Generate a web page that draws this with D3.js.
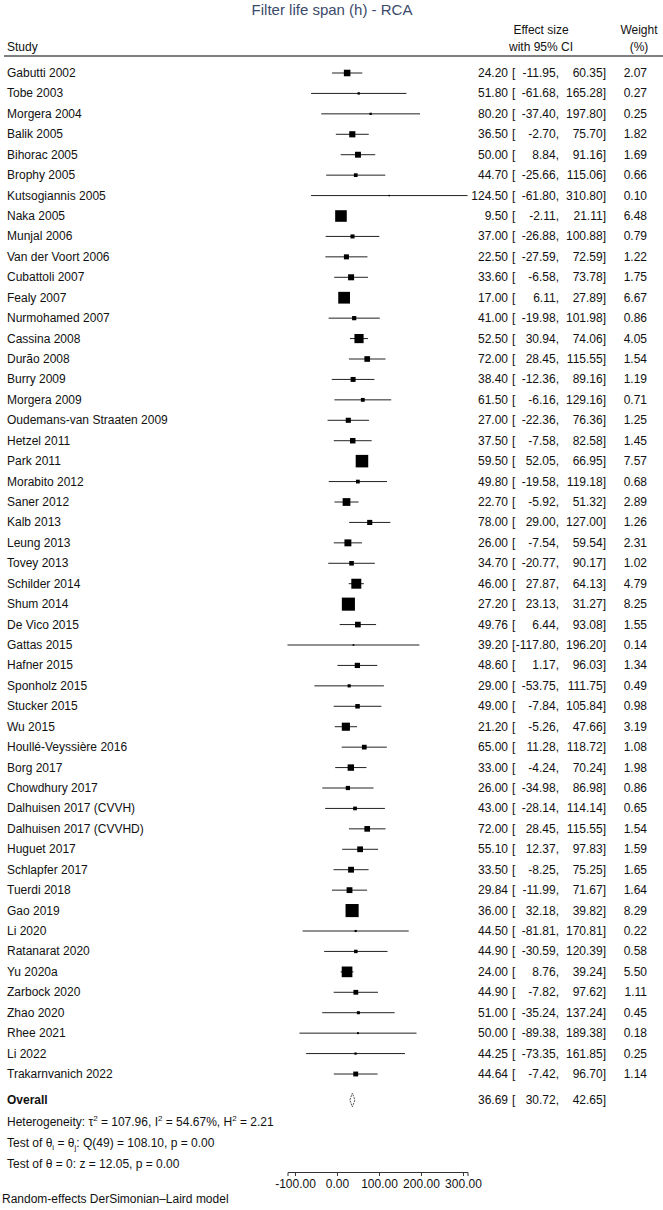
<!DOCTYPE html>
<html>
<head>
<meta charset="utf-8">
<script src="https://cdn.jsdelivr.net/npm/d3@7"></script>
<style>
  body { margin: 0; background: #fff; }
  text { font-family: "Liberation Sans", Arial, sans-serif; font-size: 12px; fill: #111; }
</style>
</head>
<body>
<svg id="chart"></svg>
<script>
var width = 663;
var height = 1210;

// study rows
var studies = ["Gabutti 2002", "Tobe 2003", "Morgera 2004", "Balik 2005", "Bihorac 2005",
  "Brophy 2005", "Kutsogiannis 2005", "Naka 2005", "Munjal 2006", "Van der Voort 2006",
  "Cubattoli 2007", "Fealy 2007", "Nurmohamed 2007", "Cassina 2008", "Durão 2008",
  "Burry 2009", "Morgera 2009", "Oudemans-van Straaten 2009", "Hetzel 2011", "Park 2011",
  "Morabito 2012", "Saner 2012", "Kalb 2013", "Leung 2013", "Tovey 2013",
  "Schilder 2014", "Shum 2014", "De Vico 2015", "Gattas 2015", "Hafner 2015",
  "Sponholz 2015", "Stucker 2015", "Wu 2015", "Houllé-Veyssière 2016", "Borg 2017",
  "Chowdhury 2017", "Dalhuisen 2017 (CVVH)", "Dalhuisen 2017 (CVVHD)", "Huguet 2017", "Schlapfer 2017",
  "Tuerdi 2018", "Gao 2019", "Li 2020", "Ratanarat 2020", "Yu 2020a",
  "Zarbock 2020", "Zhao 2020", "Rhee 2021", "Li 2022", "Trakarnvanich 2022"];

var effects = [24.20, 51.80, 80.20, 36.50, 50.00, 44.70, 124.50, 9.50, 37.00, 22.50,
  33.60, 17.00, 41.00, 52.50, 72.00, 38.40, 61.50, 27.00, 37.50, 59.50,
  49.80, 22.70, 78.00, 26.00, 34.70, 46.00, 27.20, 49.76, 39.20, 48.60,
  29.00, 49.00, 21.20, 65.00, 33.00, 26.00, 43.00, 72.00, 55.10, 33.50,
  29.84, 36.00, 44.50, 44.90, 24.00, 44.90, 51.00, 50.00, 44.25, 44.64];

var lower = [-11.95, -61.68, -37.40, -2.70, 8.84, -25.66, -61.80, -2.11, -26.88, -27.59,
  -6.58, 6.11, -19.98, 30.94, 28.45, -12.36, -6.16, -22.36, -7.58, 52.05,
  -19.58, -5.92, 29.00, -7.54, -20.77, 27.87, 23.13, 6.44, -117.80, 1.17,
  -53.75, -7.84, -5.26, 11.28, -4.24, -34.98, -28.14, 28.45, 12.37, -8.25,
  -11.99, 32.18, -81.81, -30.59, 8.76, -7.82, -35.24, -89.38, -73.35, -7.42];

var upper = [60.35, 165.28, 197.80, 75.70, 91.16, 115.06, 310.80, 21.11, 100.88, 72.59,
  73.78, 27.89, 101.98, 74.06, 115.55, 89.16, 129.16, 76.36, 82.58, 66.95,
  119.18, 51.32, 127.00, 59.54, 90.17, 64.13, 31.27, 93.08, 196.20, 96.03,
  111.75, 105.84, 47.66, 118.72, 70.24, 86.98, 114.14, 115.55, 97.83, 75.25,
  71.67, 39.82, 170.81, 120.39, 39.24, 97.62, 137.24, 189.38, 161.85, 96.70];

var weights = [2.07, 0.27, 0.25, 1.82, 1.69, 0.66, 0.10, 6.48, 0.79, 1.22,
  1.75, 6.67, 0.86, 4.05, 1.54, 1.19, 0.71, 1.25, 1.45, 7.57,
  0.68, 2.89, 1.26, 2.31, 1.02, 4.79, 8.25, 1.55, 0.14, 1.34,
  0.49, 0.98, 3.19, 1.08, 1.98, 0.86, 0.65, 1.54, 1.59, 1.65,
  1.64, 8.29, 0.22, 0.58, 5.50, 1.11, 0.45, 0.18, 0.25, 1.14];

// pooled estimate
var overall = [36.69, 30.72, 42.65];

var xTicks = [-100, 0, 100, 200, 300];

var svg = d3.select("#chart")
  .attr("width", width)
  .attr("height", height);

// plain hyphen for negatives, like the original
var fmt = d3.formatLocale({ decimal: ".", thousands: ",", grouping: [3], currency: ["", ""], minus: "-" }).format(".2f");

/** Scales */
var xScale = d3.scaleLinear()
  .domain([d3.min(lower), d3.max(upper)])
  .range([287.5, 467.5]);

var yScale = d3.scalePoint()
  .domain(d3.range(studies.length))
  .range([73, 1074]);

var sizeScale = d3.scaleSqrt()
  .domain([0, d3.max(weights)])
  .range([0, 13.1]);

// title
svg.append("text")
  .attr("x", 332)
  .attr("y", 15)
  .attr("text-anchor", "middle")
  .style("font-size", "15px")
  .style("fill", "#3b4a6b")
  .text("Filter life span (h) - RCA");

// column headers
svg.append("text").attr("x", 7).attr("y", 51).text("Study");
svg.append("text").attr("x", 541).attr("y", 34).attr("text-anchor", "middle").text("Effect size");
svg.append("text").attr("x", 541).attr("y", 51).attr("text-anchor", "middle").text("with 95% CI");
svg.append("text").attr("x", 639).attr("y", 34).attr("text-anchor", "middle").text("Weight");
svg.append("text").attr("x", 639).attr("y", 51).attr("text-anchor", "middle").text("(%)");

svg.append("line")
  .attr("x1", 4).attr("x2", 663)
  .attr("y1", 56).attr("y2", 56)
  .attr("stroke", "#555")
  .attr("stroke-width", 1.5);

var rows = svg.selectAll("g.row")
  .data(studies)
  .enter().append("g")
  .attr("class", "row")
  .attr("transform", function(d, i) { return "translate(0," + yScale(i) + ")"; });

rows.append("text").attr("x", 7).attr("y", 4).text(function(d) { return d; });

// CI whiskers
rows.append("line")
  .attr("x1", function(d, i) { return xScale(lower[i]); })
  .attr("x2", function(d, i) { return xScale(upper[i]); })
  .attr("y1", 0).attr("y2", 0)
  .attr("stroke", "#222")
  .attr("stroke-width", 1);

// weight boxes
rows.append("rect")
  .attr("x", function(d, i) { return xScale(effects[i]) - sizeScale(weights[i]) / 2; })
  .attr("y", function(d, i) { return -sizeScale(weights[i]) / 2; })
  .attr("width", function(d, i) { return sizeScale(weights[i]); })
  .attr("height", function(d, i) { return sizeScale(weights[i]); })
  .attr("fill", "#000");

// numbers on the right
function addNumbers(sel, est, lo, hi, w) {
  sel.append("text").attr("x", 508).attr("y", 4).attr("text-anchor", "end").text(est);
  sel.append("text").attr("x", 512).attr("y", 4).text("[");
  sel.append("text").attr("x", 559).attr("y", 4).attr("text-anchor", "end").text(lo);
  sel.append("text").attr("x", 606).attr("y", 4).attr("text-anchor", "end").text(hi);
  if (w != null) {
    sel.append("text").attr("x", 647).attr("y", 4).attr("text-anchor", "end").text(w);
  }
}

rows.each(function(d, i) {
  addNumbers(d3.select(this), fmt(effects[i]), fmt(lower[i]) + ",", fmt(upper[i]) + "]", fmt(weights[i]));
});

// overall row
var yOverall = 1100;
var ov = svg.append("g").attr("transform", "translate(0," + yOverall + ")");
ov.append("text").attr("x", 7).attr("y", 4).style("font-weight", "bold").text("Overall");
ov.append("path")
  .attr("d", d3.line()([
    [xScale(overall[1]), 0], [xScale(overall[0]), -7],
    [xScale(overall[2]), 0], [xScale(overall[0]), 7]
  ]) + "Z")
  .attr("fill", "#fff")
  .attr("stroke", "#555")
  .attr("stroke-width", 1)
  .attr("stroke-dasharray", "2,1");
addNumbers(ov, fmt(overall[0]), fmt(overall[1]) + ",", fmt(overall[2]) + "]", null);

// heterogeneity and tests
var het = svg.append("text").attr("x", 7).attr("y", 1126);
het.append("tspan").text("Heterogeneity: τ");
het.append("tspan").attr("dy", -5).style("font-size", "8px").text("2");
het.append("tspan").attr("dy", 5).text(" = 107.96, I");
het.append("tspan").attr("dy", -5).style("font-size", "8px").text("2");
het.append("tspan").attr("dy", 5).text(" = 54.67%, H");
het.append("tspan").attr("dy", -5).style("font-size", "8px").text("2");
het.append("tspan").attr("dy", 5).text(" = 2.21");

var t1 = svg.append("text").attr("x", 7).attr("y", 1147);
t1.append("tspan").text("Test of θ");
t1.append("tspan").attr("dy", 3).style("font-size", "8px").text("i");
t1.append("tspan").attr("dy", -3).text(" = θ");
t1.append("tspan").attr("dy", 3).style("font-size", "8px").text("j");
t1.append("tspan").attr("dy", -3).text(": Q(49) = 108.10, p = 0.00");

svg.append("text").attr("x", 7).attr("y", 1168).text("Test of θ = 0: z = 12.05, p = 0.00");

// x axis
var xAxis = d3.axisBottom(xScale)
  .tickValues(xTicks)
  .tickFormat(fmt)
  .tickSizeOuter(0)
  .tickSize(4);

var axisG = svg.append("g")
  .attr("transform", "translate(0,1172)")
  .call(xAxis);
axisG.select(".domain").attr("stroke", "#333");
axisG.selectAll(".tick line").attr("stroke", "#333");
axisG.selectAll(".tick text")
  .attr("y", 7)
  .style("font-family", "Liberation Sans, Arial, sans-serif")
  .style("font-size", "12px")
  .style("fill", "#111");

svg.append("text")
  .attr("x", 2)
  .attr("y", 1203)
  .text("Random-effects DerSimonian–Laird model");
</script>
</body>
</html>
